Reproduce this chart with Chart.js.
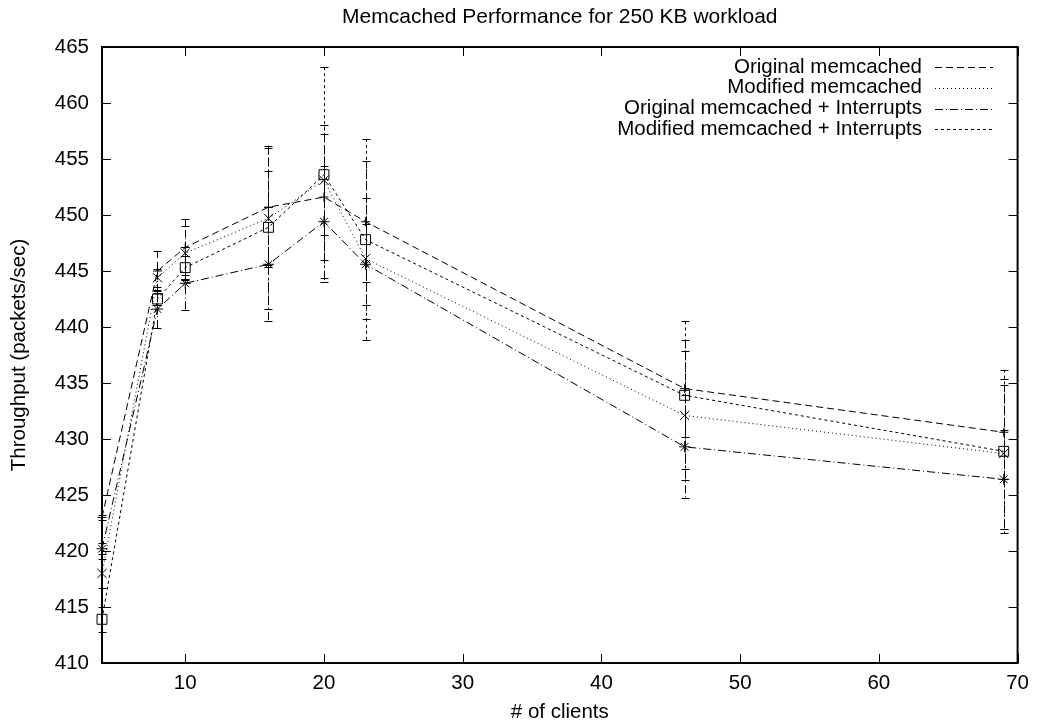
<!DOCTYPE html>
<html>
<head>
<meta charset="utf-8">
<script src="https://cdn.jsdelivr.net/npm/chart.js@4/dist/chart.umd.min.js"></script>
<style>
  html, body { margin: 0; padding: 0; background: #fff; }
</style>
</head>
<body>
<canvas id="chart" width="1037" height="727"></canvas>
<script>
// valeurs
const clients = [4, 8, 10, 16, 20, 23, 46, 69];

const original = [423.0, 445.0, 447.1, 450.7, 451.6, 449.4, 434.5, 430.6];
const originalErr = [0.2, 1.8, 2.5, 5.3, 5.6, 5.4, 4.3, 4.2];

const modified = [418.0, 444.4, 446.6, 449.7, 453.1, 446.1, 432.1, 428.7];
const modifiedErr = [1.3, 0.8, 2.4, 4.2, 4.9, 5.4, 5.8, 6.7];

const originalInt = [420.2, 441.6, 443.9, 445.6, 449.4, 445.6, 429.3, 426.4];
const originalIntErr = [0.5, 1.7, 2.4, 5.1, 5.0, 3.6, 4.6, 4.4];

const modifiedInt = [413.9, 442.5, 445.3, 448.9, 453.6, 447.8, 433.9, 428.9];
const modifiedIntErr = [1.1, 0.5, 1.0, 7.3, 9.6, 9.0, 6.6, 7.3];

const seriesLabels = [
    'Original memcached',
    'Modified memcached',
    'Original memcached + Interrupts',
    'Modified memcached + Interrupts'
];

const xTicks = [10, 20, 30, 40, 50, 60, 70];
const yTicks = [410, 415, 420, 425, 430, 435, 440, 445, 450, 455, 460, 465];

const titleText = 'Memcached Performance for 250 KB workload';
const xTitle = '# of clients';
const yTitle = 'Throughput (packets/sec)';

const FONT_FAMILY = '"Liberation Sans", Arial, sans-serif';
const FONT = '20.5px ' + FONT_FAMILY;

function toPoints(vals) {
    return clients.map((x, i) => ({ x: x, y: vals[i] }));
}

function makeDataset(label, vals, errs, dash, style, radius) {
    return {
        label: label,
        data: toPoints(vals),
        errors: errs,
        borderColor: '#000',
        borderWidth: 1,
        borderDash: dash,
        fill: false,
        tension: 0,
        clip: false,
        pointStyle: style,
        pointRadius: radius,
        pointBorderColor: '#000',
        pointBackgroundColor: 'rgba(0,0,0,0)',
        pointBorderWidth: 1
    };
}

// barres d'erreur, tracées avec le même pointillé que la courbe
const errorBars = {
    id: 'errorBars',
    afterDatasetsDraw(chart) {
        const ctx = chart.ctx;
        const xs = chart.scales.x, ys = chart.scales.y;
        chart.data.datasets.forEach(ds => {
            ctx.save();
            ctx.strokeStyle = '#000';
            ctx.lineWidth = 1;
            ds.data.forEach((p, i) => {
                const e = ds.errors[i];
                const px = Math.round(xs.getPixelForValue(p.x)) + 0.5;
                const top = ys.getPixelForValue(p.y + e);
                const bot = ys.getPixelForValue(p.y - e);
                ctx.setLineDash(ds.borderDash);
                ctx.beginPath();
                ctx.moveTo(px, top);
                ctx.lineTo(px, bot);
                ctx.stroke();
                ctx.setLineDash([]);
                ctx.beginPath();
                ctx.moveTo(px - 4, Math.round(top) + 0.5);
                ctx.lineTo(px + 4, Math.round(top) + 0.5);
                ctx.moveTo(px - 4, Math.round(bot) + 0.5);
                ctx.lineTo(px + 4, Math.round(bot) + 0.5);
                ctx.stroke();
            });
            ctx.restore();
        });
    }
};

// cadre, graduations, titres et légende façon gnuplot
const frame = {
    id: 'frame',
    afterDraw(chart) {
        const ctx = chart.ctx;
        const a = chart.chartArea;
        const xs = chart.scales.x, ys = chart.scales.y;
        ctx.save();
        ctx.strokeStyle = '#000';
        ctx.lineWidth = 1;
        ctx.setLineDash([]);
        ctx.beginPath();
        xTicks.forEach(v => {
            const px = Math.round(xs.getPixelForValue(v)) + 0.5;
            ctx.moveTo(px, a.bottom);
            ctx.lineTo(px, a.bottom - 9);
            ctx.moveTo(px, a.top);
            ctx.lineTo(px, a.top + 9);
        });
        yTicks.forEach(v => {
            const py = Math.round(ys.getPixelForValue(v)) + 0.5;
            ctx.moveTo(a.left, py);
            ctx.lineTo(a.left + 9, py);
            ctx.moveTo(a.right, py);
            ctx.lineTo(a.right - 9, py);
        });
        ctx.stroke();

        ctx.lineWidth = 2;
        ctx.strokeRect(a.left, a.top, a.right - a.left, a.bottom - a.top);

        ctx.fillStyle = '#000';
        ctx.textAlign = 'center';
        ctx.textBaseline = 'middle';
        ctx.font = '21px ' + FONT_FAMILY;
        ctx.fillText(titleText, (a.left + a.right) / 2, 17);
        ctx.font = FONT;
        ctx.fillText(xTitle, (a.left + a.right) / 2, 712);

        ctx.save();
        ctx.translate(19, (a.top + a.bottom) / 2);
        ctx.rotate(-Math.PI / 2);
        ctx.fillText(yTitle, 0, 0);
        ctx.restore();

        // légende
        chart.data.datasets.forEach((ds, i) => {
            const y = 67 + i * 20.8;
            ctx.textAlign = 'right';
            ctx.fillText(ds.label, 922, y);
            ctx.lineWidth = 1;
            ctx.setLineDash(ds.borderDash);
            ctx.beginPath();
            ctx.moveTo(935, Math.round(y) + 0.5);
            ctx.lineTo(993, Math.round(y) + 0.5);
            ctx.stroke();
            ctx.setLineDash([]);
        });
        ctx.restore();
    }
};

const ctx = document.getElementById('chart').getContext('2d');
const chart = new Chart(ctx, {
    type: 'line',
    data: {
        datasets: [
            makeDataset(seriesLabels[0], original, originalErr, [7, 4], 'cross', 4.5),
            makeDataset(seriesLabels[1], modified, modifiedErr, [1, 3], 'crossRot', 6.5),
            makeDataset(seriesLabels[2], originalInt, originalIntErr, [8, 3, 1, 3], 'star', 5.5),
            makeDataset(seriesLabels[3], modifiedInt, modifiedIntErr, [3, 3], 'rect', 7)
        ]
    },
    options: {
        responsive: false,
        animation: false,
        devicePixelRatio: 1,
        layout: { padding: { left: 0, right: 18, top: 47, bottom: 0 } },
        plugins: {
            legend: { display: false },
            title: { display: false },
            tooltip: { enabled: false }
        },
        scales: {
            x: {
                type: 'linear',
                min: 4,
                max: 70,
                grid: { display: false, drawTicks: false },
                border: { display: false },
                ticks: { color: '#000', font: { family: FONT_FAMILY, size: 20.5 }, padding: 8, maxRotation: 0 },
                afterBuildTicks: s => { s.ticks = xTicks.map(v => ({ value: v })); },
                afterFit: s => { s.height = 64; }
            },
            y: {
                min: 410,
                max: 465,
                grid: { display: false, drawTicks: false },
                border: { display: false },
                ticks: { color: '#000', font: { family: FONT_FAMILY, size: 20.5 }, padding: 13 },
                afterBuildTicks: s => { s.ticks = yTicks.map(v => ({ value: v })); },
                afterFit: s => { s.width = 102; }
            }
        }
    },
    plugins: [errorBars, frame]
});
</script>
</body>
</html>
